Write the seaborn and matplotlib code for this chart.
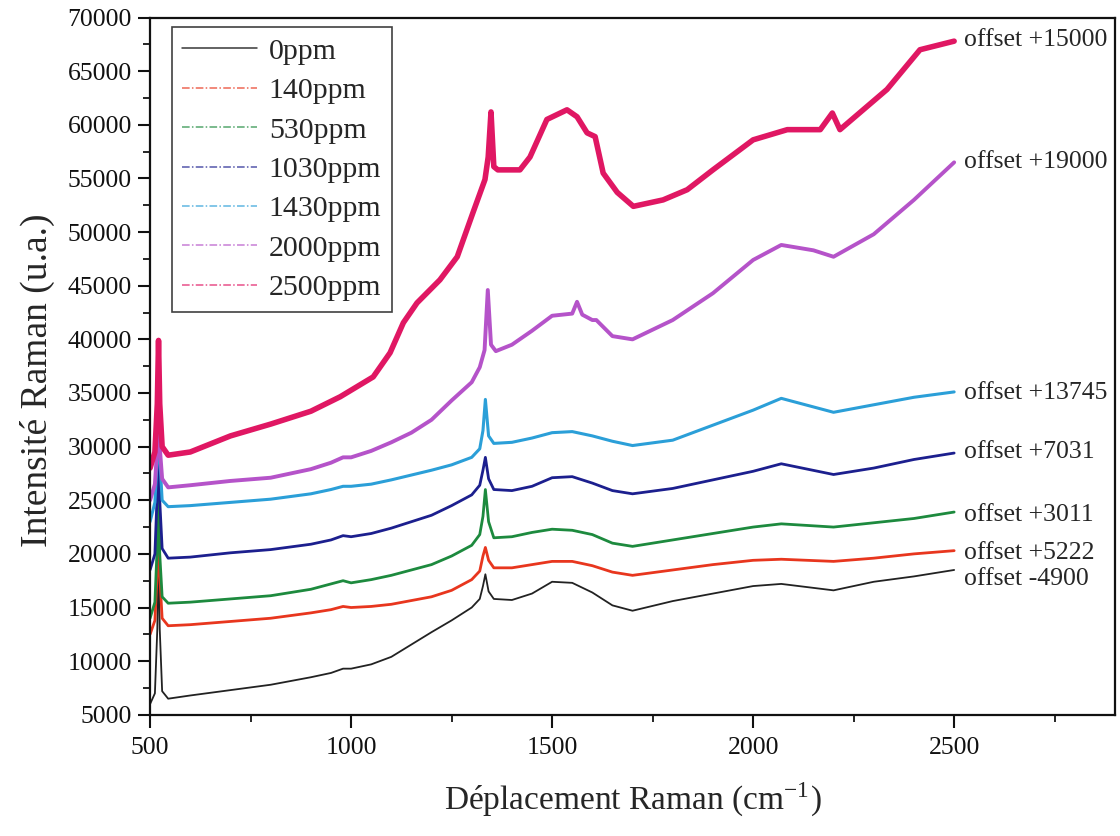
import numpy as np
import pandas as pd
import matplotlib
matplotlib.use("Agg")
import matplotlib.pyplot as plt
from matplotlib.lines import Line2D
from matplotlib.ticker import MultipleLocator
import seaborn as sns

# ---------------- data ----------------
# shared Raman shift grid (cm-1) for the five lower spectra
shift_low = [500, 512, 518, 521, 524, 530, 545,
             600, 700, 800, 900, 950, 980, 1000,
             1050, 1100, 1200, 1250, 1300,
             1320, 1328, 1334, 1342, 1355,
             1400, 1450, 1500, 1550, 1600, 1650, 1700,
             1800, 1900, 2000, 2070, 2200,
             2300, 2400, 2500]

int_0ppm = [6000, 7000, 13000, 21000, 13000, 7200, 6500,
            6800, 7300, 7800, 8500, 8900, 9300, 9300,
            9700, 10400, 12700, 13800, 15000,
            15800, 17000, 18100, 16500, 15800,
            15700, 16300, 17400, 17300, 16400, 15200, 14700,
            15600, 16300, 17000, 17200, 16600,
            17400, 17900, 18500]

int_140ppm = [12500, 13800, 18500, 24500, 18000, 14000, 13300,
              13400, 13700, 14000, 14500, 14800, 15100, 15000,
              15100, 15300, 16000, 16600, 17600,
              18400, 19800, 20600, 19400, 18700,
              18700, 19000, 19300, 19300, 18900, 18300, 18000,
              18500, 19000, 19400, 19500, 19300,
              19600, 20000, 20300]

int_530ppm = [14000, 15500, 21000, 26500, 20000, 16000, 15400,
              15500, 15800, 16100, 16700, 17200, 17500, 17300,
              17600, 18000, 19000, 19800, 20800,
              21800, 23500, 26000, 23000, 21500,
              21600, 22000, 22300, 22200, 21800, 21000, 20700,
              21300, 21900, 22500, 22800, 22500,
              22900, 23300, 23900]

int_1030ppm = [18500, 20000, 26000, 33000, 25000, 20500, 19600,
               19700, 20100, 20400, 20900, 21300, 21700, 21600,
               21900, 22400, 23600, 24500, 25500,
               26400, 27800, 29000, 27000, 26000,
               25900, 26300, 27100, 27200, 26600, 25900, 25600,
               26100, 26900, 27700, 28400, 27400,
               28000, 28800, 29400]

int_1430ppm = [23000, 24800, 29000, 35000, 29000, 25000, 24400,
               24500, 24800, 25100, 25600, 26000, 26300, 26300,
               26500, 26900, 27800, 28300, 29000,
               29800, 31500, 34400, 31000, 30300,
               30400, 30800, 31300, 31400, 31000, 30500, 30100,
               30600, 32000, 33400, 34500, 33200,
               33900, 34600, 35100]

shift_2000 = [500, 512, 518, 521, 524, 530, 545, 600, 700, 800, 900, 950,
              980, 1000, 1050, 1100, 1150, 1200, 1250, 1300, 1320, 1332,
              1340, 1348, 1360, 1400, 1450, 1500, 1550, 1562, 1575, 1600,
              1610, 1650, 1700, 1800, 1900, 2000, 2070, 2150, 2200, 2300,
              2400, 2500]
int_2000ppm = [25000, 26500, 30000, 35000, 30000, 27000, 26200, 26400, 26800,
               27100, 27900, 28500, 29000, 29000, 29600, 30400, 31300, 32500,
               34300, 36000, 37400, 39000, 44600, 39500, 38900, 39500, 40800,
               42200, 42400, 43500, 42300, 41800, 41800, 40300, 40000, 41800,
               44300, 47400, 48800, 48300, 47700, 49800, 53000, 56500]

shift_2500 = [500, 512, 518, 521, 524, 530, 545, 600, 700, 800, 900, 973,
              1055, 1097, 1130, 1164, 1221, 1264, 1303, 1333, 1341, 1348,
              1355, 1365, 1420, 1445, 1487, 1537, 1562, 1587, 1607, 1627,
              1662, 1702, 1776, 1836, 1900, 2000, 2085, 2167, 2197, 2216,
              2333, 2415, 2500]
int_2500ppm = [28000, 29500, 34000, 39900, 34000, 30000, 29200, 29500, 31000,
               32100, 33300, 34650, 36500, 38750, 41550, 43400, 45550, 47700,
               51800, 54900, 57000, 61200, 56100, 55800, 55800, 57000, 60500,
               61400, 60750, 59250, 58900, 55500, 53700, 52400, 53000, 53950,
               55800, 58600, 59550, 59550, 61100, 59550, 63300, 67000, 67800]

samples = ["0ppm", "140ppm", "530ppm", "1030ppm", "1430ppm", "2000ppm", "2500ppm"]
offset_labels = ["offset -4900", "offset +5222", "offset +3011", "offset +7031",
                 "offset +13745", "offset +19000", "offset +15000"]
label_y = [17700, 20100, 23600, 29500, 35000, 56500, 67900]

colors = ["#222222", "#e8361e", "#1d8a3e", "#1c1f8e", "#2b9fd8", "#b553c9", "#e01763"]
widths = [1.3, 2.0, 2.0, 2.0, 2.2, 2.8, 4.0]

shifts = [shift_low] * 5 + [shift_2000, shift_2500]
intens = [int_0ppm, int_140ppm, int_530ppm, int_1030ppm, int_1430ppm,
          int_2000ppm, int_2500ppm]

df = pd.concat([pd.DataFrame({"shift": s, "intensity": v, "sample": n})
                for s, v, n in zip(shifts, intens, samples)], ignore_index=True)

# ---------------- plotting ----------------
sns.set_style("ticks")
plt.rcParams["font.family"] = ["Liberation Serif", "DejaVu Serif"]
plt.rcParams["mathtext.fontset"] = "stix"

fig, ax = plt.subplots(figsize=(11.2, 8.36), dpi=100)
fig.subplots_adjust(left=0.134, right=0.9955, top=0.979, bottom=0.145)

for name, col, lw in zip(samples, colors, widths):
    sns.lineplot(data=df[df["sample"] == name], x="shift", y="intensity",
                 color=col, lw=lw, estimator=None, sort=False, legend=False, ax=ax)

for txt, yv in zip(offset_labels, label_y):
    ax.text(2525, yv, txt, fontsize=18.5, va="center", ha="left")

ax.set_xlim(500, 2900)
ax.set_ylim(5000, 70000)
ax.set_xticks([500, 1000, 1500, 2000, 2500])
ax.xaxis.set_minor_locator(MultipleLocator(250))
ax.yaxis.set_major_locator(MultipleLocator(5000))
ax.yaxis.set_minor_locator(MultipleLocator(2500))
ax.tick_params(axis="both", which="major", direction="out", length=9, width=1.5,
               labelsize=18.5, colors="#111111")
ax.tick_params(axis="both", which="minor", direction="out", length=5, width=1.4)
ax.tick_params(axis="x", which="major", pad=7)
ax.tick_params(axis="y", which="major", pad=4)
for sp in ax.spines.values():
    sp.set_linewidth(1.6)
    sp.set_color("#111111")

ax.set_xlabel("Déplacement Raman (cm$^{\\mathregular{-1}}$)", fontsize=24, labelpad=15)
ax.set_ylabel("Intensité Raman (u.a.)", fontsize=27, labelpad=9, y=0.48)

styles = ["-"] + [(0, (5, 1.5, 1, 1.5))] * 6
handles = [Line2D([0], [0], color=c, lw=1.1, ls=ls, alpha=0.9 if i == 0 else 0.75)
           for i, (c, ls) in enumerate(zip(colors, styles))]
leg = ax.legend(handles, samples, loc="upper left", bbox_to_anchor=(0.0225, 0.986),
                fontsize=21.5, handlelength=2.5, handletextpad=0.4, labelspacing=0.42,
                frameon=True, fancybox=False, borderpad=0.35, borderaxespad=0)
leg.get_frame().set_edgecolor("#111111")
leg.get_frame().set_linewidth(1.2)

fig.savefig("out.png", dpi=100)
